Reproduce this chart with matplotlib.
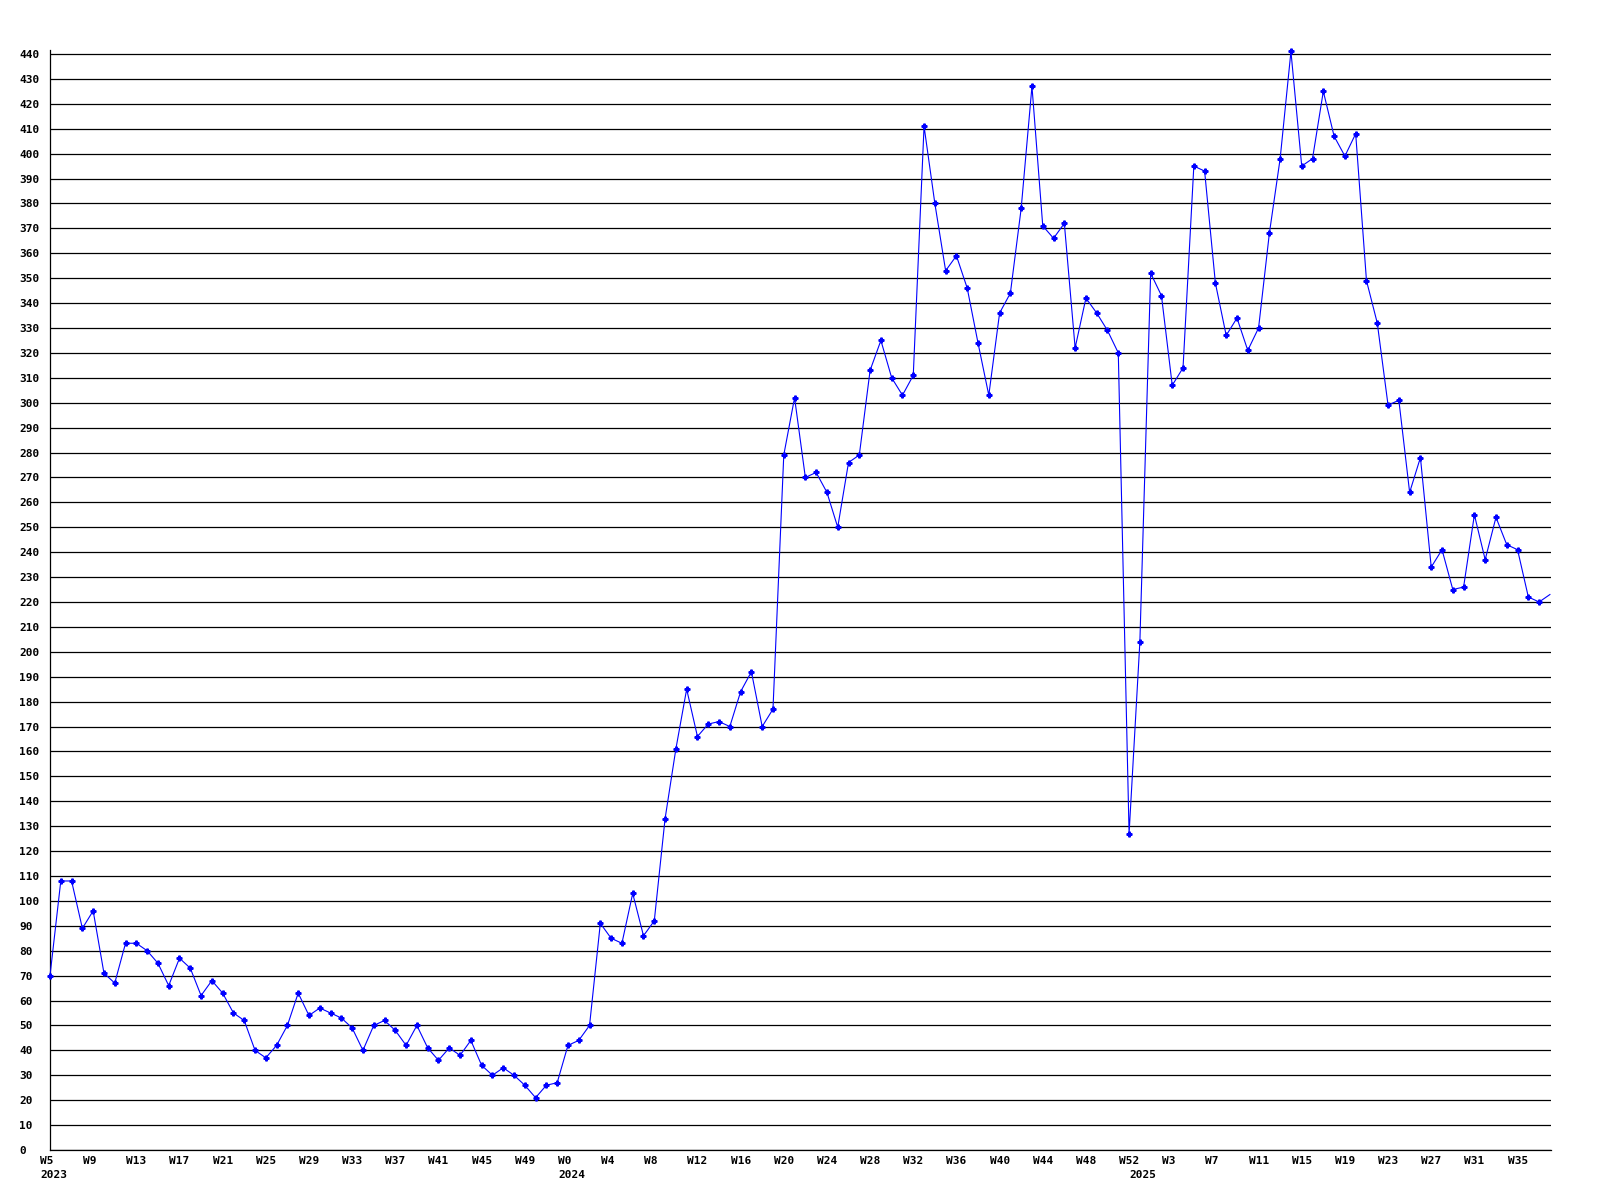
import matplotlib
matplotlib.use("Agg")
import matplotlib.pyplot as plt
from matplotlib.transforms import ScaledTranslation

# weekly values, 2023 W5 .. 2025 W37
vals_2023 = [70, 108, 108, 89, 96, 71, 67, 83, 83, 80, 75, 66, 77, 73, 62, 68,
             63, 55, 52, 40, 37, 42, 50, 63, 54, 57, 55, 53, 49, 40, 50, 52,
             48, 42, 50, 41, 36, 41, 38, 44, 34, 30, 33, 30, 26, 21, 26, 27]
vals_2024 = [42, 44, 50, 91, 85, 83, 103, 86, 92, 133, 161, 185, 166, 171, 172,
             170, 184, 192, 170, 177, 279, 302, 270, 272, 264, 250, 276, 279,
             313, 325, 310, 303, 311, 411, 380, 353, 359, 346, 324, 303, 336,
             344, 378, 427, 371, 366, 372, 322, 342, 336, 329, 320, 127]
vals_2025 = [204, 352, 343, 307, 314, 395, 393, 348, 327, 334, 321, 330, 368,
             398, 441, 395, 398, 425, 407, 399, 408, 349, 332, 299, 301, 264,
             278, 234, 241, 225, 226, 255, 237, 254, 243, 241, 222, 220, 223]
values = vals_2023 + vals_2024 + vals_2025

week_labels = ["W5", "W9", "W13", "W17", "W21", "W25", "W29", "W33", "W37",
               "W41", "W45", "W49",
               "W0", "W4", "W8", "W12", "W16", "W20", "W24", "W28", "W32",
               "W36", "W40", "W44", "W48", "W52",
               "W3", "W7", "W11", "W15", "W19", "W23", "W27", "W31", "W35"]
years = ["2023", "2024", "2025"]
year_pos = [0, 48, 101]

x = list(range(len(values)))
font = dict(family="DejaVu Sans Mono", weight="bold", size=8)

fig = plt.figure(figsize=(16, 12), dpi=100)
ax = fig.add_axes([50 / 1600, 50 / 1200, 1501 / 1600, 1100 / 1200])

ax.plot(x, values, color="#0000ff", lw=0.8, marker="P", ms=3.5,
        markevery=list(range(len(values) - 1)), clip_on=False, zorder=3)

ax.set_xlim(0, 139.1)
ax.set_ylim(0, 441.6)

ax.set_yticks(range(0, 450, 10))
ax.set_yticklabels([str(v) for v in range(0, 450, 10)], ha="left", **font)
ax.yaxis.grid(True, color="black", lw=0.9)
ax.tick_params(axis="y", length=0, pad=22)

ax.set_xticks(x[::4])
ax.set_xticklabels(week_labels, ha="left", **font)
ax.tick_params(axis="x", length=0, pad=4)
off = ScaledTranslation(-10 / 100, 0, fig.dpi_scale_trans)
for lab in ax.get_xticklabels():
    lab.set_transform(lab.get_transform() + off)

for yr, p in zip(years, year_pos):
    ax.annotate(yr, xy=(p, 0), xycoords=("data", "axes fraction"),
                xytext=(-10, -20), textcoords="offset pixels",
                ha="left", va="top", annotation_clip=False, **font)

for s in ["top", "right"]:
    ax.spines[s].set_visible(False)
for s in ["left", "bottom"]:
    ax.spines[s].set_color("black")
    ax.spines[s].set_linewidth(0.9)
ax.set_axisbelow(True)

fig.savefig("out.png", dpi=100, facecolor="white")
